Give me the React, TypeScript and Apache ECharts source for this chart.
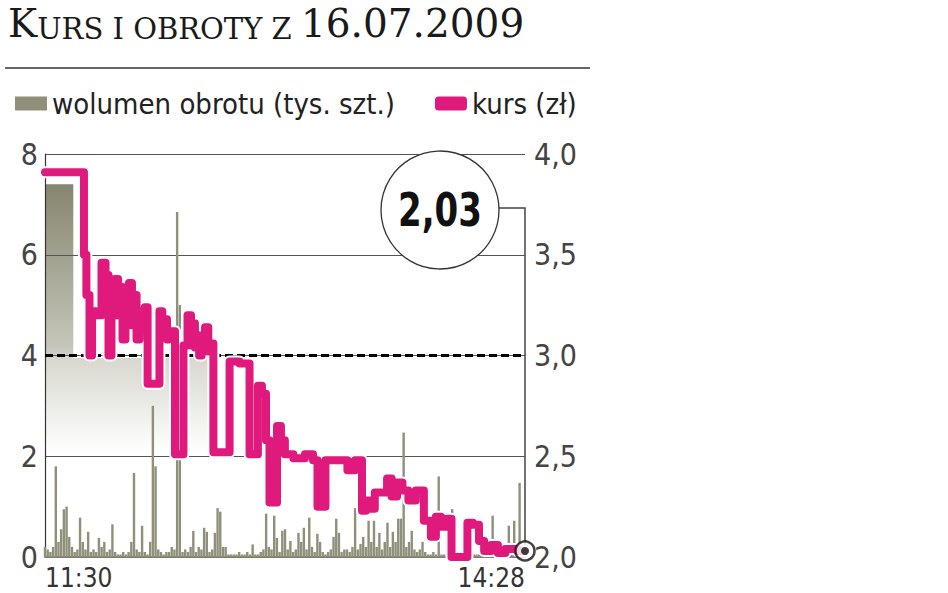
import React, { useEffect, useRef } from 'react';
import * as echarts from 'echarts';

const titleCap = 'K';
const titleSmallCaps = 'URS I OBROTY Z';
const titleDate = '16.07.2009';
const legendNames = ['wolumen obrotu (tys. szt.)', 'kurs (zł)'];

const xTickMinutes = [0, 178];
const xTickLabels = ['11:30', '14:28'];

// volume per minute (tys. szt.), minute 0 = 11:30
const volumeValues = [
  0.2, 0.15, 0.1, 0.2, 1.8, 0.3, 0.55, 0.95, 1.0, 0.4,
  0.2, 0.1, 0.15, 0.78, 0.3, 0.15, 0.5, 0.1, 0.15, 0.1,
  0.38, 0.2, 0.3, 0.1, 0.15, 0.65, 0.1, 0.05, 0.05, 0.1,
  0.05, 0.1, 0.3, 1.67, 0.15, 0.1, 0.62, 0.1, 0.05, 0.3,
  3.0, 1.8, 0.15, 0.1, 0.05, 0.1, 0.1, 0.2, 0.15, 6.85,
  5.0, 0.1, 0.15, 0.1, 0.2, 0.52, 0.1, 0.2, 0.15, 0.58,
  0.5, 0.1, 0.15, 0.48, 0.97, 0.9, 0.2, 0.2, 0.05, 0.05,
  0.05, 0.05, 0.1, 0.05, 0.05, 0.1, 0.05, 0.25, 0.05, 0.05,
  0.1, 0.15, 0.86, 0.2, 0.15, 0.82, 0.38, 0.1, 0.52, 0.55,
  0.15, 0.32, 0.1, 0.15, 0.48, 0.3, 0.58, 0.15, 0.78, 0.2,
  0.1, 0.46, 0.3, 0.1, 0.05, 0.1, 0.15, 0.4, 0.76, 0.48,
  0.1, 0.15, 0.15, 0.1, 0.2, 0.97, 0.15, 0.26, 0.4, 0.2,
  0.72, 0.3, 0.72, 0.2, 0.48, 0.15, 0.3, 0.68, 0.2, 0.5,
  0.3, 0.76, 0.76, 2.47, 0.2, 0.3, 0.52, 0.15, 0.1, 0.15,
  0.3, 0.1, 0.05, 0.05, 0.1, 0.05, 1.6, 0.05, 0.05, 0.05,
  0.05, 0.95, 0.05, 0.05, 0.05, 0.05, 0.05, 0.05, 0.05, 0.05,
  0.05, 0.05, 0.1, 0.1, 0.1, 0.1, 0.82, 0.1, 0.1, 0.1,
  0.1, 0.1, 0.62, 0.1, 0.72, 0.1, 1.47, 0.1, 0.1,
];

// shaded opening-volume backdrop (tys. szt.)
const baseAreaMinutes = [0, 10.5, 10.5, 63, 63];
const baseAreaValues = [7.4, 7.4, 3.95, 3.95, 0];

// price path (zł), minutes after 11:30
const priceMinutes = [
  0, 14.1, 14.8, 15.9, 17.1, 17.8, 20.0, 21.9, 23.0, 24.1,
  25.2, 26.7, 27.5, 28.2, 29.3, 30.4, 31.9, 32.6, 33.4, 34.5,
  35.6, 36.5, 37.5, 38.6, 41.9, 43.0, 44.0, 44.9, 45.6, 46.3,
  47.8, 48.6, 50.8, 51.9, 53.8, 54.5, 55.2, 56.0, 56.7, 57.6,
  58.6, 60.1, 61.0, 61.9, 63.0, 67.9, 69.0, 75.3, 76.4, 78.2,
  79.7, 81.2, 82.7, 83.8, 85.3, 86.8, 88.2, 89.7, 94.5, 98.3,
  100.5, 101.6, 103.4, 104.6, 111.2, 113.1, 116.8, 118.3, 119.8, 121.5,
  123.1, 126.1, 127.6, 129.5, 131.6, 133.5, 136.0, 139.0, 142.0, 144.2,
  145.7, 148.0, 150.2, 151.3, 156.1, 157.2, 160.2, 161.7, 164.0, 166.9,
  169.0, 172.4, 178,
];
const priceValues = [
  3.91, 3.91, 3.5, 3.3, 3.0, 3.22, 3.2, 3.46, 3.4, 3.0,
  3.2, 3.38, 3.2, 3.34, 3.08, 3.22, 3.36, 3.15, 3.3, 3.08,
  3.22, 3.12, 3.24, 2.86, 2.86, 3.22, 3.1, 3.18, 3.08, 3.12,
  3.12, 2.51, 2.51, 3.05, 3.2, 3.05, 3.16, 3.04, 3.1, 3.0,
  3.08, 3.14, 3.02, 3.06, 2.52, 2.52, 2.97, 2.96, 2.51, 2.51,
  2.85, 2.81, 2.58, 2.27, 2.27, 2.65, 2.58, 2.51, 2.49, 2.51,
  2.48, 2.25, 2.25, 2.48, 2.48, 2.43, 2.48, 2.23, 2.28, 2.24,
  2.32, 2.32, 2.39, 2.3, 2.37, 2.33, 2.28, 2.33, 2.18, 2.1,
  2.2, 2.15, 2.19, 2.0, 2.0, 2.17, 2.16, 2.08, 2.03, 2.06,
  2.02, 2.04, 2.03,
];

const referenceVolume = 4; // dashed line (= 3,0 zł)

const LABEL_FONT = '"DejaVu Sans Condensed", "Liberation Sans Narrow", "Open Sans", sans-serif';
const PINK = '#e0197d';
const OLIVE = '#8f8f7a';

export default function App() {
  const ref = useRef<HTMLDivElement>(null);

  useEffect(() => {
    if (!ref.current) return;
    const chart = echarts.init(ref.current, null, { renderer: 'svg' });

    const pricePairs = priceMinutes.map((m, i) => [m, priceValues[i]]);
    const last = pricePairs[pricePairs.length - 1];
    const lastLabel = last[1].toFixed(2).replace('.', ',');

    const option: any = {
      animation: false,
      backgroundColor: '#ffffff',
      grid: { left: 45, right: 423, top: 154, bottom: 36, containLabel: false, outerBoundsMode: 'none' },
      legend: {
        left: 10,
        top: 84,
        itemWidth: 32,
        itemHeight: 14,
        itemGap: 40,
        textStyle: { fontSize: 29, color: '#222', fontFamily: LABEL_FONT },
        data: [
          { name: legendNames[0], icon: 'rect', itemStyle: { color: OLIVE } },
          { name: legendNames[1], icon: 'roundRect', itemStyle: { color: PINK } },
        ],
      },
      xAxis: {
        type: 'value',
        min: 0,
        max: 178,
        z: 1,
        axisLine: { show: true, lineStyle: { color: '#7d7d6a', width: 2 } },
        axisTick: { show: false },
        splitLine: { show: false },
        axisLabel: {
          customValues: xTickMinutes,
          formatter: (v: number) => {
            const i = xTickMinutes.indexOf(v);
            return i >= 0 ? xTickLabels[i] : '';
          },
          alignMinLabel: 'left',
          alignMaxLabel: 'right',
          margin: 8,
          fontSize: 26,
          color: '#333',
          fontFamily: LABEL_FONT,
        },
      },
      yAxis: [
        {
          type: 'value',
          min: 0,
          max: 8,
          interval: 2,
          z: 1,
          axisLine: { show: true, lineStyle: { color: '#333', width: 1.2 } },
          axisTick: { show: false },
          splitLine: { show: true, lineStyle: { color: '#555', width: 1.2 } },
          axisLabel: { margin: 7, fontSize: 30, color: '#444', fontFamily: LABEL_FONT },
        },
        {
          type: 'value',
          min: 2,
          max: 4,
          interval: 0.5,
          position: 'right',
          z: 1,
          axisLine: { show: false },
          axisTick: { show: false },
          splitLine: { show: false },
          axisLabel: {
            margin: 9,
            fontSize: 30,
            color: '#444',
            fontFamily: LABEL_FONT,
            formatter: (v: number) => v.toFixed(1).replace('.', ','),
          },
        },
      ],
      series: [
        {
          name: 'tlo',
          type: 'line',
          yAxisIndex: 0,
          z: 0,
          silent: true,
          symbol: 'none',
          lineStyle: { width: 0 },
          areaStyle: {
            opacity: 1,
            color: new echarts.graphic.LinearGradient(0, 0, 0, 1, [
              { offset: 0, color: '#85856f' },
              { offset: 0.44, color: '#c6c6ba' },
              { offset: 0.47, color: '#d8d8cf' },
              { offset: 0.72, color: '#ffffff' },
              { offset: 1, color: '#ffffff' },
            ]),
          },
          data: baseAreaMinutes.map((m, i) => [m, baseAreaValues[i]]),
        },
        {
          name: legendNames[0],
          type: 'bar',
          yAxisIndex: 0,
          z: 2,
          barWidth: 2.4,
          itemStyle: { color: OLIVE },
          data: volumeValues.map((v, i) => [i, v]),
          markLine: {
            silent: true,
            symbol: 'none',
            label: { show: false },
            lineStyle: { color: '#000', width: 3, type: [8, 4] },
            data: [{ yAxis: referenceVolume }],
          },
        },
        {
          name: 'kursHalo',
          type: 'line',
          yAxisIndex: 1,
          z: 9,
          silent: true,
          symbol: 'none',
          step: 'middle',
          lineStyle: { color: '#ffffff', width: 12, cap: 'round', join: 'round' },
          data: pricePairs,
        },
        {
          name: legendNames[1],
          type: 'line',
          yAxisIndex: 1,
          z: 10,
          symbol: 'none',
          step: 'middle',
          itemStyle: { color: PINK },
          lineStyle: { color: PINK, width: 8, cap: 'round', join: 'round' },
          data: pricePairs,
        },
        {
          name: 'endRing',
          type: 'scatter',
          yAxisIndex: 1,
          z: 11,
          symbolSize: 19,
          itemStyle: { color: '#ffffff', borderColor: '#111', borderWidth: 2.5 },
          data: [last],
        },
        {
          name: 'endDot',
          type: 'scatter',
          yAxisIndex: 1,
          z: 12,
          symbolSize: 8,
          itemStyle: { color: '#111' },
          data: [last],
        },
      ],
    };

    chart.setOption(option);

    const endPx = chart.convertToPixel({ seriesIndex: 3 }, last) as number[];
    const cx = 440;
    const cy = 210;
    const r = 59;
    const connectorY = 208;

    chart.setOption({
      graphic: [
        {
          type: 'text',
          left: 8,
          top: 4,
          style: {
            text: `{a|${titleCap}}{b|${titleSmallCaps} }{a|${titleDate}}`,
            rich: {
              a: { fontFamily: '"DejaVu Serif", serif', fontSize: 39, fill: '#1a1a1a', verticalAlign: 'bottom' },
              b: { fontFamily: '"DejaVu Serif", serif', fontSize: 29, fill: '#1a1a1a', verticalAlign: 'bottom' },
            },
          },
        },
        {
          type: 'line',
          shape: { x1: 5, y1: 68, x2: 590, y2: 68 },
          style: { stroke: '#333', lineWidth: 1.5 },
        },
        {
          type: 'polyline',
          z: 5,
          shape: { points: [[cx + r, connectorY], [endPx[0], connectorY], [endPx[0], endPx[1]]] },
          style: { stroke: '#444', lineWidth: 1.5, fill: null },
        },
        {
          type: 'circle',
          z: 6,
          shape: { cx, cy, r },
          style: { fill: '#ffffff', stroke: '#333', lineWidth: 1.3 },
        },
        {
          type: 'text',
          z: 7,
          x: cx,
          y: cy,
          scaleX: 0.74,
          style: {
            text: lastLabel,
            fontFamily: '"DejaVu Sans", sans-serif',
            fontWeight: 'bold',
            fontSize: 46,
            fill: '#111',
            align: 'center',
            verticalAlign: 'middle',
          },
        },
      ],
    });

    return () => chart.dispose();
  }, []);

  return <div ref={ref} style={{ position: 'fixed', left: 0, top: 0, width: 948, height: 593 }} />;
}
